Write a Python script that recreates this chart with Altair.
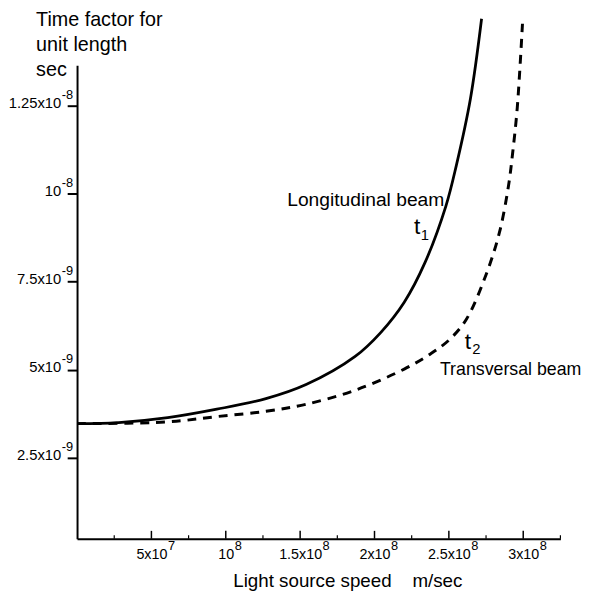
import altair as alt
import pandas as pd

FONT = "Liberation Sans"

# ---- data ----
speed_t1 = [0.0, 0.28e8, 0.61e8, 0.94e8, 1.27e8, 1.54e8, 1.87e8, 2.04e8,
            2.20e8, 2.34e8, 2.48e8, 2.55e8, 2.645e8, 2.72e8]
time_t1 = [3.47e-9, 3.50e-9, 3.64e-9, 3.88e-9, 4.18e-9, 4.58e-9, 5.38e-9, 6.05e-9,
           6.92e-9, 8.05e-9, 9.65e-9, 10.80e-9, 12.70e-9, 14.97e-9]

speed_t2 = [0.0, 0.61e8, 0.94e8, 1.27e8, 1.54e8, 1.87e8, 2.20e8, 2.38e8, 2.51e8,
            2.62e8, 2.75e8, 2.84e8, 2.90e8, 2.93e8, 2.96e8, 2.995e8]
time_t2 = [3.47e-9, 3.52e-9, 3.67e-9, 3.82e-9, 4.02e-9, 4.42e-9, 5.02e-9, 5.46e-9, 5.88e-9,
           6.45e-9, 7.70e-9, 8.90e-9, 10.20e-9, 11.20e-9, 12.45e-9, 14.83e-9]

x_ticks = [5e7, 1e8, 1.5e8, 2e8, 2.5e8, 3e8]
x_tick_base = ["5x10", "10", "1.5x10", "2x10", "2.5x10", "3x10"]
x_tick_exp = ["7", "8", "8", "8", "8", "8"]
x_minor = [2.5e7, 7.5e7, 1.25e8, 1.75e8, 2.25e8, 2.75e8, 3.25e8]

y_ticks = [2.5e-9, 5e-9, 7.5e-9, 1e-8, 1.25e-8]
y_tick_base = ["2.5x10", "5x10", "7.5x10", "10", "1.25x10"]
y_tick_exp = ["-9", "-9", "-9", "-8", "-8"]

long_label = ["Longitudinal beam"]
long_x = [1.413e8]
long_y = [9.64e-9]

trans_label = ["Transversal beam"]
trans_x = [2.44e8]
trans_y = [4.85e-9]

t_labels = ["t", "t"]
t_x = [2.265e8, 2.607e8]
t_y = [8.86e-9, 5.58e-9]

sub_labels = ["1", "2"]
sub_x = [2.311e8, 2.658e8]
sub_y = [8.70e-9, 5.44e-9]

# ---- layout ----
W, H = 490, 480
X_DOMAIN = [0, 3.25e8]
xscale = alt.Scale(domain=X_DOMAIN, nice=False, zero=False)
yscale = alt.Scale(domain=[0.2e-9, 13.65e-9], nice=False, zero=False)
UNITS_PER_PX = (X_DOMAIN[1] - X_DOMAIN[0]) / W

ARIAL = {c: 0.556 for c in "0123456789"}
ARIAL.update({".": 0.278, "x": 0.5})
XLBL = 14.5
YLBL = 15


def exp_pos(tick, base):
    # exponent starts just right of the centred base label
    half = sum(ARIAL[c] for c in base) * XLBL / 2 + 1.0
    return tick + half * UNITS_PER_PX


df1 = pd.DataFrame({"speed": speed_t1, "time": time_t1})
df2 = pd.DataFrame({"speed": speed_t2, "time": time_t2})
dfx_exp = pd.DataFrame({"speed": [exp_pos(t, b) for t, b in zip(x_ticks, x_tick_base)],
                        "e": x_tick_exp})
dfy_exp = pd.DataFrame({"time": y_ticks, "e": y_tick_exp})
df_major = pd.DataFrame({"speed": x_ticks})
df_minor = pd.DataFrame({"speed": x_minor})
df_long = pd.DataFrame({"speed": long_x, "time": long_y, "t": long_label})
df_trans = pd.DataFrame({"speed": trans_x, "time": trans_y, "t": trans_label})
df_t = pd.DataFrame({"speed": t_x, "time": t_y, "t": t_labels})
df_sub = pd.DataFrame({"speed": sub_x, "time": sub_y, "t": sub_labels})

x_label_expr = "[" + ",".join(f"'{s}'" for s in x_tick_base) + "][round(datum.value/5e7)-1]"
y_label_expr = "[" + ",".join(f"'{s}'" for s in y_tick_base) + "][round(datum.value*4e8)-1]"

x_axis = alt.Axis(
    values=x_ticks, labelExpr=x_label_expr, labelFontSize=XLBL, labelAlign="center",
    labelBaseline="alphabetic", labelPadding=19.7, ticks=False,
    labelFlush=False, labelOverlap=False, grid=False,
    title="Light source speed\u00a0\u00a0\u00a0\u00a0m/sec", titleFontSize=19,
    titleFontWeight="normal", titleAlign="center", titleBaseline="alphabetic",
    titleX=274, titleY=48, domainWidth=2, domainColor="black",
    labelColor="black", titleColor="black", labelFont=FONT, titleFont=FONT,
)
y_axis = alt.Axis(
    values=y_ticks, labelExpr=y_label_expr, labelFontSize=YLBL, labelAlign="right",
    labelBaseline="alphabetic", labelPadding=6.5, labelOffset=1.5, tickSize=10,
    tickWidth=2, tickColor="black", labelFlush=False, labelOverlap=False, grid=False,
    title=["Time factor for", "unit length", "sec"], titleFontSize=20,
    titleFontWeight="normal", titleAngle=0, titleAlign="left",
    titleBaseline="alphabetic", titleX=-42, titleY=-40.5, titleLineHeight=25.5,
    domainWidth=2, domainColor="black",
    labelColor="black", titleColor="black", labelFont=FONT, titleFont=FONT,
)

X = alt.X("speed:Q", scale=xscale, axis=x_axis)
Y = alt.Y("time:Q", scale=yscale, axis=y_axis)

line1 = alt.Chart(df1).mark_line(color="black", strokeWidth=2.8,
                                 interpolate="catmull-rom").encode(x=X, y=Y)
line2 = alt.Chart(df2).mark_line(color="black", strokeWidth=3, strokeDash=[9, 7],
                                 interpolate="catmull-rom").encode(x=X, y=Y)

major = alt.Chart(df_major).mark_rule(color="black", strokeWidth=1.5).encode(
    x=X, y=alt.value(H), y2=alt.value(H - 8),
)
minor = alt.Chart(df_minor).mark_rule(color="black", strokeWidth=1.2).encode(
    x=X, y=alt.value(H), y2=alt.value(H - 3.5),
)

x_exp = alt.Chart(dfx_exp).mark_text(align="left", baseline="alphabetic", fontSize=13,
                                     font=FONT, color="black").encode(
    x=X, y=alt.value(H + 11), text="e:N",
)
y_exp = alt.Chart(dfy_exp).mark_text(align="right", baseline="alphabetic", fontSize=13,
                                     dy=-6.5, font=FONT, color="black").encode(
    x=alt.value(-4), y=Y, text="e:N",
)

long_txt = alt.Chart(df_long).mark_text(align="left", baseline="alphabetic", fontSize=19.5,
                                        font=FONT, color="black").encode(x=X, y=Y, text="t:N")
trans_txt = alt.Chart(df_trans).mark_text(align="left", baseline="alphabetic", fontSize=18,
                                          font=FONT, color="black").encode(x=X, y=Y, text="t:N")
tt = alt.Chart(df_t).mark_text(align="left", baseline="alphabetic", fontSize=23,
                               font=FONT, color="black").encode(x=X, y=Y, text="t:N")
sub = alt.Chart(df_sub).mark_text(align="left", baseline="alphabetic", fontSize=15,
                                  font=FONT, color="black").encode(x=X, y=Y, text="t:N")

chart = alt.layer(line1, line2, major, minor, x_exp, y_exp,
                  long_txt, trans_txt, tt, sub).properties(
    width=W, height=H,
    autosize=alt.AutoSizeParams(type="none"),
    padding={"left": 70, "top": 54, "right": 30, "bottom": 55},
    background="white",
).configure_view(stroke=None)

chart.save("out.html", embed_options={"renderer": "svg", "actions": False})
